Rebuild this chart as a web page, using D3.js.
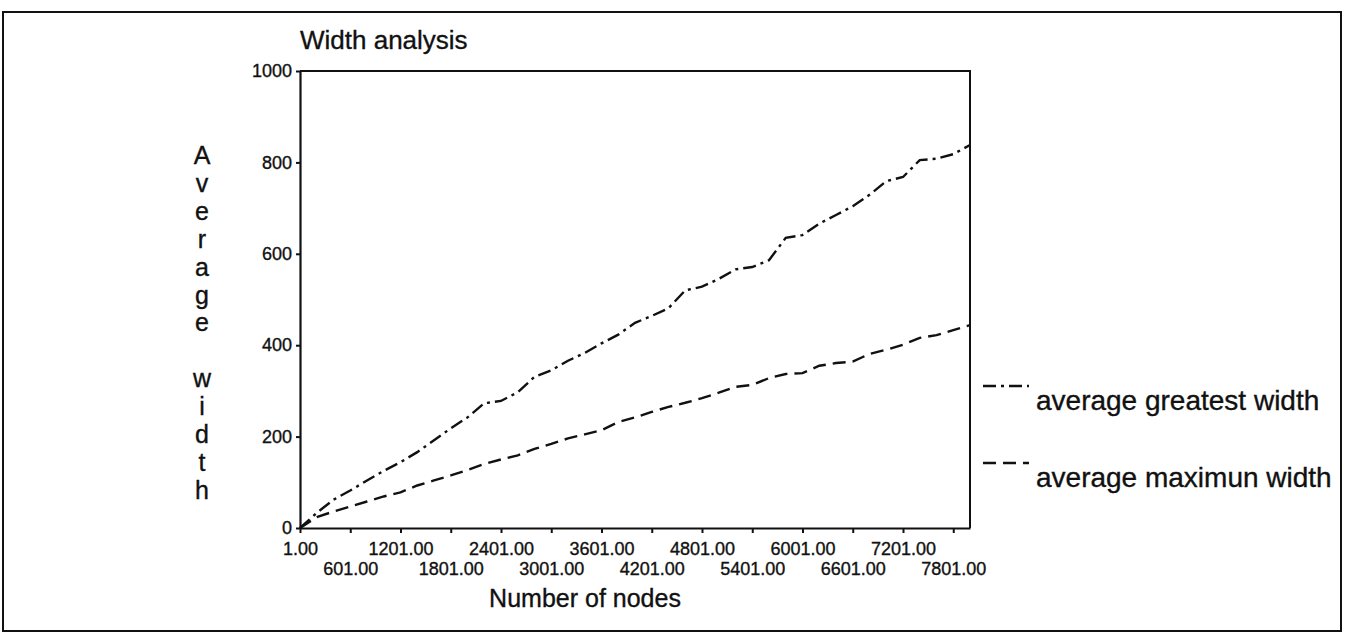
<!DOCTYPE html>
<html>
<head>
<meta charset="utf-8">
<script src="https://cdn.jsdelivr.net/npm/d3@7"></script>
<style>
body { margin: 0; background: #fff; }
text { font-family: "Liberation Sans", Arial, sans-serif; fill: #111; stroke: #111; stroke-width: 0.35px; }
</style>
</head>
<body>
<svg id="chart" width="1345" height="634"></svg>
<script>
var nodes = [1, 201, 401, 601, 801, 1001, 1201, 1401, 1601, 1801, 2001, 2201, 2401, 2601,
	2801, 3001, 3201, 3401, 3601, 3801, 4001, 4201, 4401, 4601, 4801, 5001, 5201, 5401,
	5601, 5801, 6001, 6201, 6401, 6601, 6801, 7001, 7201, 7401, 7601, 7801, 8001];
var greatestWidth = [0, 33, 62, 82, 104, 125, 144, 166, 192, 218, 242, 273, 278, 297,
	331, 345, 366, 383, 404, 423, 449, 464, 481, 520, 528, 545, 566, 571,
	586, 635, 641, 666, 685, 704, 729, 759, 768, 805, 808, 818, 838];
var maximumWidth = [0, 24, 36, 47, 58, 69, 78, 93, 104, 115, 127, 140, 150, 159,
	173, 184, 196, 205, 214, 232, 242, 254, 265, 274, 284, 296, 309, 313,
	328, 337, 339, 355, 361, 364, 381, 390, 401, 416, 422, 433, 444];
var xTickValues = [1, 601, 1201, 1801, 2401, 3001, 3601, 4201, 4801, 5401, 6001, 6601, 7201, 7801];
var yTickValues = [0, 200, 400, 600, 800, 1000];
var seriesNames = ["average greatest width", "average maximun width"];
var chartTitle = "Width analysis";
var xTitle = "Number of nodes";
var yTitle = "Average width";

var plotLeft = 300, plotRight = 970, plotTop = 71, plotBottom = 528;
var lineStroke = 2.4;
var dashGreatest = "13,5,3,5";
var dashMaximum = "13,7";

var svg = d3.select('#chart');

// outer frame of the scanned figure
svg.append('rect')
	.attr('x', 3).attr('y', 12)
	.attr('width', 1338).attr('height', 619)
	.attr('fill', 'none')
	.attr('stroke', '#111')
	.attr('stroke-width', 2);

var x = d3.scaleLinear().domain([1, 8001]).range([plotLeft, plotRight]);
var y = d3.scaleLinear().domain([0, 1000]).range([plotBottom, plotTop]);

var yAxis = svg.append('g')
	.attr('transform', `translate(${plotLeft}, 0)`)
	.call(d3.axisLeft(y).tickValues(yTickValues).tickSize(4).tickSizeOuter(0).tickPadding(4).tickFormat(d3.format('d')));

var xAxis = svg.append('g')
	.attr('transform', `translate(0, ${plotBottom})`)
	.call(d3.axisBottom(x).tickValues(xTickValues).tickSize(5).tickSizeOuter(0).tickFormat(d3.format('.2f')));

[yAxis, xAxis].forEach(function(ax){
	ax.attr('font-size', null).attr('font-family', null);
	ax.select('.domain').attr('stroke', '#111').attr('stroke-width', 2.2);
	ax.selectAll('.tick line').attr('stroke', '#111').attr('stroke-width', 2);
	ax.selectAll('text').style('font-size', '18px').attr('fill', '#111');
});

xAxis.selectAll('.tick text')
	.attr('dy', 0)
	.attr('y', function(d, i){ return i % 2 ? 47 : 27; });

// top and right of the plot box
svg.append('path')
	.attr('d', d3.line()([[x(1), y(1000)], [x(8001), y(1000)], [x(8001), y(0)]]))
	.attr('fill', 'none')
	.attr('stroke', '#111')
	.attr('stroke-width', 2);

function drawSeries(values, dash){
	var line = d3.line()
		.x(function(d, i){ return x(nodes[i]); })
		.y(function(d){ return y(d); });
	svg.append('path')
		.datum(values)
		.attr('d', line)
		.attr('fill', 'none')
		.attr('stroke', '#111')
		.attr('stroke-width', lineStroke)
		.attr('stroke-dasharray', dash);
}

drawSeries(greatestWidth, dashGreatest);
drawSeries(maximumWidth, dashMaximum);

// legend
var legend = [
	{name: seriesNames[0], dash: dashGreatest, ly: 386, ty: 410},
	{name: seriesNames[1], dash: dashMaximum, ly: 463, ty: 487}
];
legend.forEach(function(l){
	svg.append('line')
		.attr('x1', 983).attr('x2', 1029)
		.attr('y1', l.ly).attr('y2', l.ly)
		.attr('stroke', '#111')
		.attr('stroke-width', lineStroke)
		.attr('stroke-dasharray', l.dash);
	svg.append('text')
		.attr('x', 1036).attr('y', l.ty)
		.style('font-size', '28px')
		.text(l.name);
});

svg.append('text')
	.attr('x', 300).attr('y', 49)
	.style('font-size', '26px')
	.text(chartTitle);

svg.append('text')
	.attr('x', 585).attr('y', 607)
	.attr('text-anchor', 'middle')
	.style('font-size', '25px')
	.text(xTitle);

// vertical stacked y title
var letters = yTitle.split('');
svg.append('g').selectAll('text')
	.data(letters)
	.join('text')
		.attr('x', 202)
		.attr('y', function(d, i){ return 155 + i * 27.9 + 9; })
		.attr('text-anchor', 'middle')
		.style('font-size', '25px')
		.text(function(d){ return d; });
</script>
</body>
</html>
